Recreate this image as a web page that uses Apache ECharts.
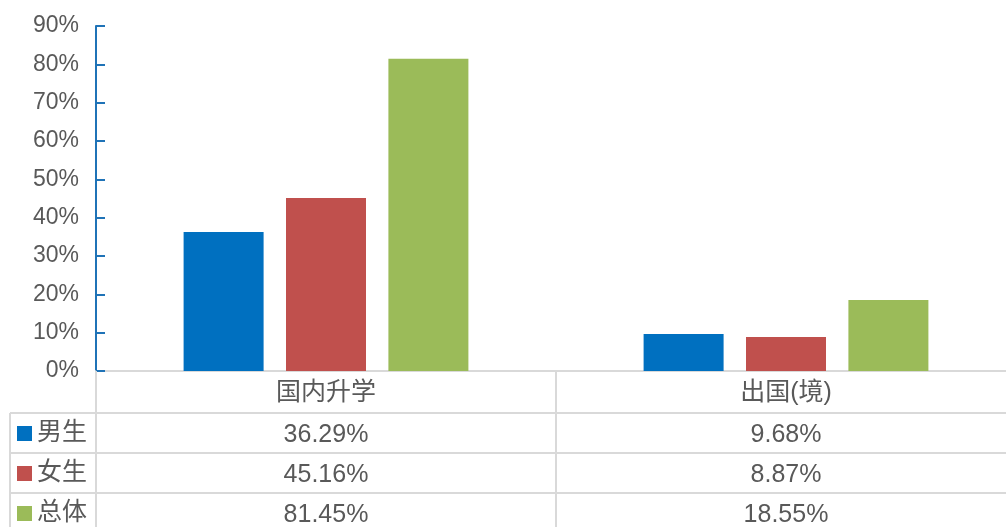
<!DOCTYPE html>
<html>
<head>
<meta charset="utf-8">
<script src="https://cdn.jsdelivr.net/npm/echarts@6/dist/echarts.min.js"></script>
<style>
  html, body { margin: 0; padding: 0; background: #fff; }
  #main { width: 1006px; height: 527px; }
</style>
</head>
<body>
<div id="main"></div>
<script>
// 数据
var categories = ['国内升学', '出国(境)'];
var seriesNames = ['男生', '女生', '总体'];
var male = [36.29, 9.68];
var female = [45.16, 8.87];
var total = [81.45, 18.55];
var yTicks = [0, 10, 20, 30, 40, 50, 60, 70, 80, 90];

var colors = ['#0070C0', '#C0504D', '#9BBB59'];
var rows = [male, female, total];
var font = "'Liberation Sans', Arial, 'Noto Sans CJK SC', sans-serif";
var gray = '#595959';
var lineGray = '#D9D9D9';

var myChart = echarts.init(document.getElementById('main'));

// 表格行用偏移的x轴来画
var tableAxes = rows.map(function (vals, i) {
  return {
    type: 'category',
    data: categories,
    position: 'bottom',
    offset: 42 + i * 40,
    axisLine: { show: true, lineStyle: { color: lineGray, width: 2 } },
    axisTick: { show: true, length: 40, lineStyle: { color: lineGray, width: 2 } },
    axisLabel: {
      interval: 0,
      margin: 10,
      fontSize: 25,
      color: gray,
      fontFamily: font,
      formatter: function (v, idx) { return vals[idx].toFixed(2) + '%'; }
    }
  };
});

var option = {
  animation: false,
  color: colors,
  grid: { left: 96, top: 26, width: 920, height: 345, outerBoundsMode: 'none', containLabel: false },
  legend: {
    orient: 'vertical',
    left: 17,
    top: 421,
    padding: 0,
    itemGap: 15,
    icon: 'rect',
    itemWidth: 15,
    itemHeight: 15,
    selectedMode: false,
    textStyle: { fontSize: 25, color: gray, fontFamily: font },
    data: seriesNames
  },
  xAxis: [{
    type: 'category',
    data: categories,
    axisLine: { lineStyle: { color: lineGray, width: 2 } },
    axisTick: { show: true, length: 42, lineStyle: { color: lineGray, width: 2 } },
    axisLabel: { interval: 0, margin: 10, fontSize: 25, color: gray, fontFamily: font }
  }].concat(tableAxes),
  yAxis: {
    type: 'value',
    min: 0,
    max: 90,
    interval: 10,
    axisLine: { show: true, lineStyle: { color: '#1F73B7', width: 2 } },
    axisTick: { show: true, inside: true, length: 9, lineStyle: { color: '#1F73B7', width: 2 } },
    splitLine: { show: false },
    axisLabel: {
      margin: 17,
      fontSize: 23,
      color: gray,
      fontFamily: font,
      padding: [3, 0, 0, 0],
      formatter: function (v) { return yTicks.indexOf(v) >= 0 ? v + '%' : ''; }
    }
  },
  graphic: [
    { type: 'line', shape: { x1: 10, y1: 413, x2: 96, y2: 413 }, style: { stroke: lineGray, lineWidth: 2 } },
    { type: 'line', shape: { x1: 10, y1: 453, x2: 96, y2: 453 }, style: { stroke: lineGray, lineWidth: 2 } },
    { type: 'line', shape: { x1: 10, y1: 493, x2: 96, y2: 493 }, style: { stroke: lineGray, lineWidth: 2 } },
    { type: 'line', shape: { x1: 10, y1: 413, x2: 10, y2: 527 }, style: { stroke: lineGray, lineWidth: 2 } }
  ],
  series: rows.map(function (vals, i) {
    return {
      name: seriesNames[i],
      type: 'bar',
      data: vals,
      barWidth: 80,
      barGap: '28%'
    };
  })
};

myChart.setOption(option);
</script>
</body>
</html>
